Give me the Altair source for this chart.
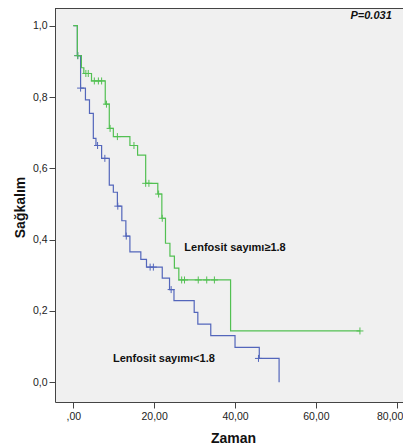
import altair as alt
import pandas as pd

# Kaplan-Meier steps (time, survival)
green_t = [0, 1.0, 2.0, 2.6, 4.5, 7.9, 8.9, 9.9, 14.0, 15.9, 17.9, 20.9, 21.9, 22.8, 23.9, 25.0, 26.1, 38.9, 70.9]
green_s = [1.0, 0.916, 0.882, 0.866, 0.845, 0.780, 0.712, 0.689, 0.664, 0.637, 0.558, 0.528, 0.460, 0.390, 0.354, 0.320, 0.287, 0.144, 0.144]

blue_t = [0, 1.0, 1.8, 3.0, 4.0, 4.95, 5.6, 7.0, 8.9, 9.9, 10.9, 12.0, 13.0, 14.0, 16.7, 18.1, 22.0, 23.8, 24.9, 29.9, 30.8, 34.0, 40.0, 46.0, 50.9]
blue_s = [1.0, 0.916, 0.825, 0.792, 0.754, 0.684, 0.664, 0.628, 0.553, 0.533, 0.494, 0.453, 0.410, 0.366, 0.345, 0.323, 0.292, 0.260, 0.229, 0.196, 0.163, 0.131, 0.098, 0.067, 0.0]

# Censored observations
gc_t = [1.1, 3.1, 3.7, 5.2, 6.2, 7.0, 8.2, 9.1, 10.9, 15.0, 17.9, 18.7, 21.1, 22.0, 26.8, 27.5, 30.9, 33.0, 34.9, 70.9]
gc_s = [0.916, 0.866, 0.866, 0.845, 0.845, 0.845, 0.780, 0.712, 0.689, 0.664, 0.558, 0.558, 0.528, 0.460, 0.287, 0.287, 0.287, 0.287, 0.287, 0.144]

bc_t = [1.1, 1.8, 6.0, 7.8, 11.0, 13.1, 19.0, 19.8, 24.2, 45.8]
bc_s = [0.916, 0.825, 0.664, 0.628, 0.494, 0.410, 0.323, 0.323, 0.260, 0.067]

# Annotations
ann_text = ["Lenfosit sayımı≥1.8", "Lenfosit sayımı<1.8"]
ann_t = [27.46, 9.82]
ann_s = [0.369, 0.057]
p_text = ["P=0.031"]
p_t = [78.77]
p_s = [1.018]

x_ticks = [0, 20, 40, 60, 80]
y_ticks = [0.0, 0.2, 0.4, 0.6, 0.8, 1.0]

GREEN = "#52c052"
BLUE = "#5366bb"
FONT = "Liberation Sans"

W, H = 348, 394

xs = alt.Scale(domain=[-4.53, 81.55], nice=False, zero=False)
ys = alt.Scale(domain=[-0.0552, 1.0496], nice=False, zero=False)

xaxis = alt.Axis(values=x_ticks,
                 labelExpr="datum.value == 0 ? ',00' : replace(format(datum.value, '.2f'), '.', ',')",
                 labelAlign={"expr": "datum.value == 80 ? 'right' : 'center'"},
                 labelOffset={"expr": "datum.value == 80 ? 6 : 0"},
                 tickSize=6, labelPadding=3, labelFont=FONT, labelFontSize=10.5, labelColor="#222",
                 domainColor="#444", tickColor="#444", grid=False,
                 titleFont=FONT, titleFontSize=14, titleFontWeight="bold", titleColor="#111",
                 titleY=40, titleBaseline="alphabetic", titleX=178)
yaxis = alt.Axis(values=y_ticks,
                 labelExpr="replace(format(datum.value, '.1f'), '.', ',')",
                 tickSize=6, labelPadding=2, labelFont=FONT, labelFontSize=10.5, labelColor="#222",
                 domainColor="#444", tickColor="#444", grid=False,
                 titleFont=FONT, titleFontSize=14, titleFontWeight="bold", titleColor="#111",
                 titleAngle=270, titleBaseline="alphabetic", titleX=-30.5, titleY=199, titleAlign="center")

gdf = pd.DataFrame({"t": green_t, "s": green_s})
bdf = pd.DataFrame({"t": blue_t, "s": blue_s})
gcdf = pd.DataFrame({"t": gc_t, "s": gc_s})
bcdf = pd.DataFrame({"t": bc_t, "s": bc_s})
adf = pd.DataFrame({"t": ann_t, "s": ann_s, "label": ann_text})
pdf = pd.DataFrame({"t": p_t, "s": p_s, "label": p_text})

X = alt.X("t:Q", scale=xs, axis=xaxis, title="Zaman")
Y = alt.Y("s:Q", scale=ys, axis=yaxis, title="Sağkalım")

cross = "M-1,0L1,0M0,-1L0,1"

blue_line = alt.Chart(bdf).mark_line(interpolate="step-after", color=BLUE, strokeWidth=1.2).encode(x=X, y=Y)
green_line = alt.Chart(gdf).mark_line(interpolate="step-after", color=GREEN, strokeWidth=1.2).encode(x=X, y=Y)
blue_c = alt.Chart(bcdf).mark_point(shape=cross, size=49, filled=False, color=BLUE, strokeWidth=1, opacity=1).encode(x=X, y=Y)
green_c = alt.Chart(gcdf).mark_point(shape=cross, size=49, filled=False, color=GREEN, strokeWidth=1, opacity=1).encode(x=X, y=Y)
ann = alt.Chart(adf).mark_text(align="left", baseline="alphabetic", font=FONT, fontSize=11,
                               fontWeight="bold", color="#111").encode(x=X, y=Y, text="label:N")
ptxt = alt.Chart(pdf).mark_text(align="right", baseline="alphabetic", font=FONT, fontSize=11,
                                fontWeight="bold", fontStyle="italic", color="#111").encode(x=X, y=Y, text="label:N")
top_rule = alt.Chart(pdf).mark_rule(color="#444", strokeWidth=1).encode(
    x=alt.value(0), x2=alt.value(W), y=alt.value(0.5))

chart = alt.layer(blue_line, green_line, blue_c, green_c, ann, ptxt, top_rule).properties(
    width=W, height=H,
    autosize=alt.AutoSizeParams(type="none"),
    padding={"left": 47, "top": 0, "right": 0, "bottom": 46},
).configure_view(fill="#f0f0f0", stroke=None)

chart.save("out.html", embed_options={"renderer": "svg", "actions": False})
